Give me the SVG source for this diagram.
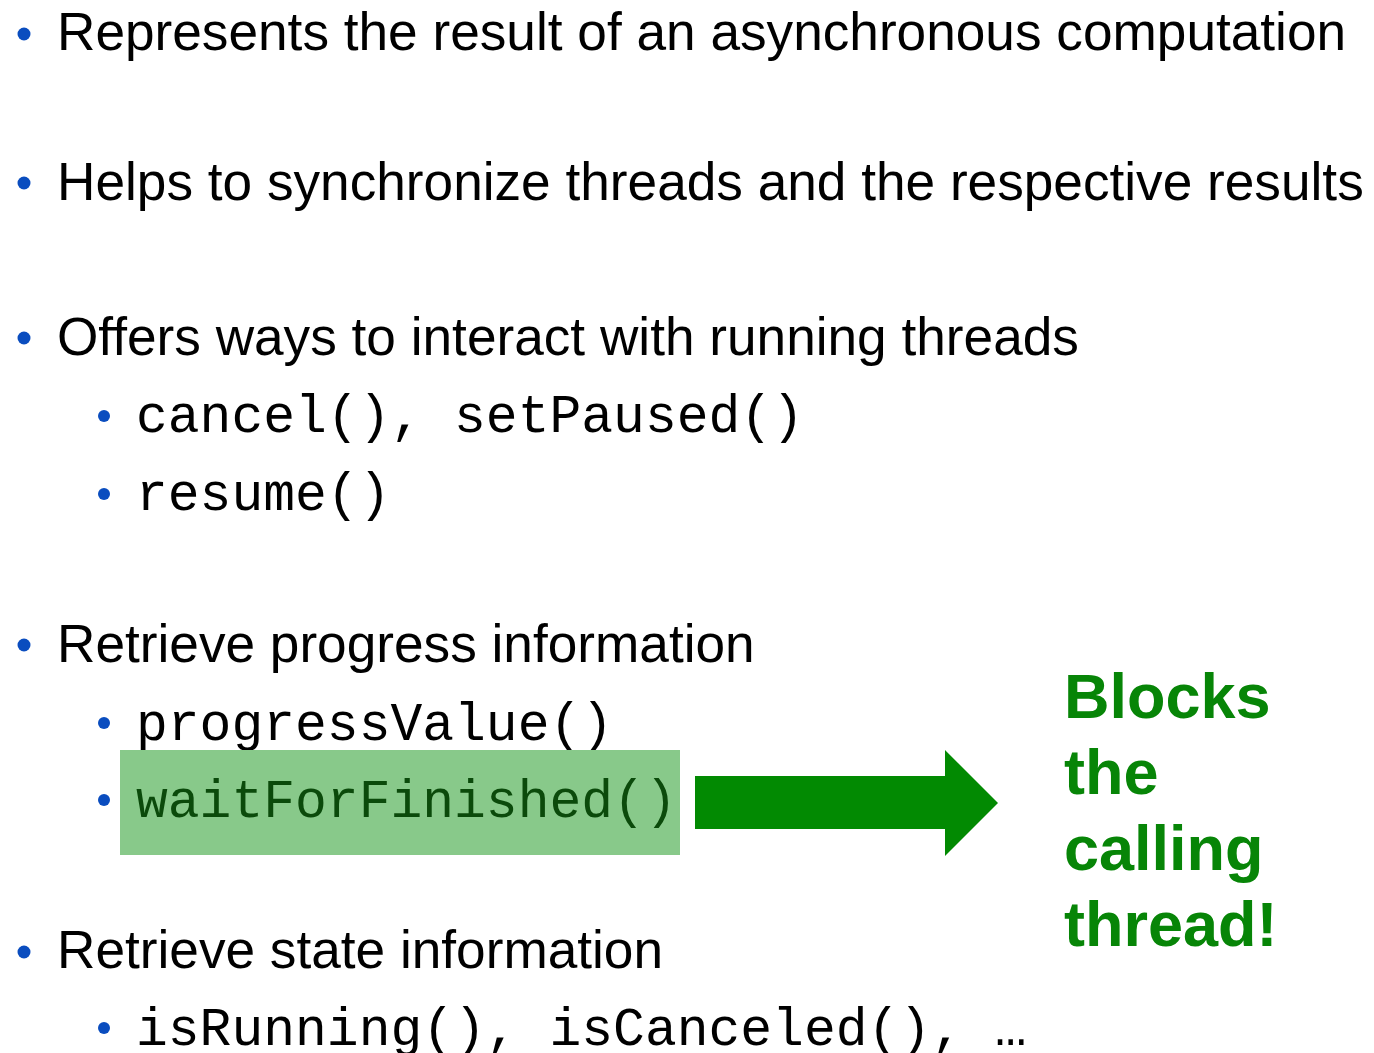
<svg xmlns="http://www.w3.org/2000/svg" width="1374" height="1053" viewBox="0 0 1374 1053">
  <style>
    .main { font-family: "Liberation Sans", Arial, sans-serif; font-size: 53.2px; fill: #000; }
    .code { font-family: "Liberation Mono", "Courier New", monospace; font-size: 53px; fill: #000; }
    .dot { fill: #0a4dbf; }
    .note { font-family: "Liberation Sans", Arial, sans-serif; font-size: 63px; font-weight: bold; fill: #078507; }
  </style>
  <rect width="1374" height="1053" fill="#fff"/>

  <g id="item-result">
    <circle class="dot" cx="24" cy="34" r="6.5"/>
    <text class="main" x="57" y="50">Represents the result of an asynchronous computation</text>
  </g>

  <g id="item-sync">
    <circle class="dot" cx="24" cy="183" r="6.5"/>
    <text class="main" x="57" y="200">Helps to synchronize threads and the respective results</text>
  </g>

  <g id="item-interact">
    <circle class="dot" cx="24" cy="338" r="6.5"/>
    <text class="main" x="57" y="355">Offers ways to interact with running threads</text>
    <circle class="dot" cx="104" cy="416" r="6"/>
    <text class="code" x="136" y="432">cancel(), setPaused()</text>
    <circle class="dot" cx="104" cy="494" r="6"/>
    <text class="code" x="136" y="510">resume()</text>
  </g>

  <g id="item-progress">
    <circle class="dot" cx="24" cy="645" r="6.5"/>
    <text class="main" x="57" y="662">Retrieve progress information</text>
    <circle class="dot" cx="104" cy="723" r="6"/>
    <text class="code" x="136" y="740">progressValue()</text>
    <rect x="120" y="750" width="560" height="105" fill="#88c98a"/>
    <circle class="dot" cx="104" cy="800" r="6"/>
    <text class="code" x="136" y="817" style="fill:#0b4a0b">waitForFinished()</text>
  </g>

  <g id="item-state">
    <circle class="dot" cx="24" cy="952" r="6.5"/>
    <text class="main" x="57" y="968">Retrieve state information</text>
    <circle class="dot" cx="104" cy="1028" r="6"/>
    <text class="code" x="136" y="1045">isRunning(), isCanceled(), …</text>
  </g>

  <g id="note-blocks">
    <text class="note" x="1064">
      <tspan x="1064" y="718">Blocks</tspan>
      <tspan x="1064" y="794">the</tspan>
      <tspan x="1064" y="870">calling</tspan>
      <tspan x="1064" y="946">thread!</tspan>
    </text>
  </g>

  <g id="connectors">
    <polygon points="695,776 945,776 945,750 998,803 945,856 945,829 695,829" fill="#028a02"/>
  </g>
</svg>
